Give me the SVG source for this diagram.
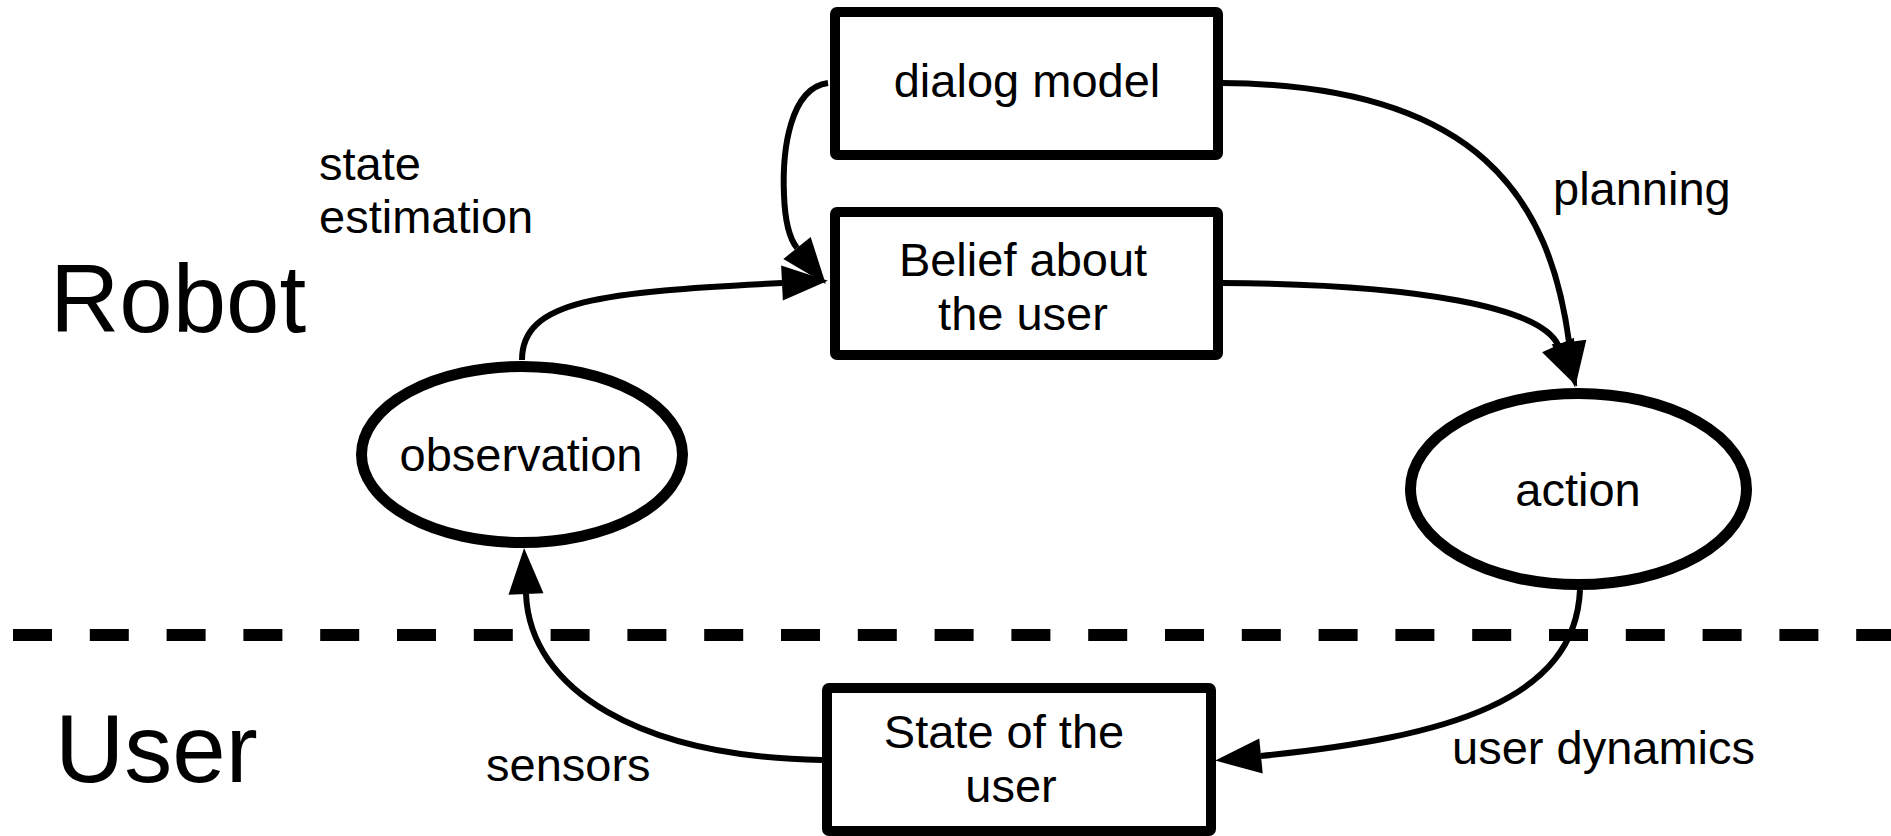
<svg xmlns="http://www.w3.org/2000/svg" width="1891" height="836" viewBox="0 0 1891 836">
  <style>
    text { font-family: "Liberation Sans", Arial, Helvetica, sans-serif; fill: #000; }
    .lbl { font-size: 47px; }
    .mid { text-anchor: middle; }
    .big { font-size: 96px; }
    .box { fill: #fff; stroke: #000; stroke-width: 10; stroke-linejoin: round; }
    .oval { fill: #fff; stroke: #000; stroke-width: 11; }
    .edge { fill: none; stroke: #000; stroke-width: 6; marker-end: url(#arrow); }
    .divider { stroke: #000; stroke-width: 12; stroke-dasharray: 39 37.8; }
  </style>
  <defs>
    <marker id="arrow" markerUnits="userSpaceOnUse" markerWidth="46" markerHeight="35"
            refX="0" refY="17.5" orient="auto" overflow="visible">
      <path d="M0,0 L46,17.5 L0,35 Z" fill="#000"/>
    </marker>
  </defs>
  <rect width="1891" height="836" fill="#fff"/>

  <!-- boundary between robot side and user side -->
  <line class="divider" x1="13" y1="635" x2="1891" y2="635"/>

  <!-- side titles -->
  <text class="big" x="50" y="332">Robot</text>
  <text class="big" x="55" y="782">User</text>

  <!-- nodes -->
  <g id="dialog-model">
    <rect class="box" x="835" y="12" width="383" height="143" rx="2"/>
    <text class="lbl mid" x="1027" y="97">dialog model</text>
  </g>
  <g id="belief">
    <rect class="box" x="835" y="212" width="383" height="143" rx="2"/>
    <text class="lbl mid" x="1023" y="276">Belief about</text>
    <text class="lbl mid" x="1023" y="330">the user</text>
  </g>
  <g id="observation">
    <ellipse class="oval" cx="522" cy="454.5" rx="160.5" ry="88"/>
    <text class="lbl mid" x="521" y="471">observation</text>
  </g>
  <g id="action">
    <ellipse class="oval" cx="1578.5" cy="489" rx="168" ry="95.5"/>
    <text class="lbl mid" x="1578" y="506">action</text>
  </g>
  <g id="user-state">
    <rect class="box" x="827" y="688" width="384" height="143" rx="2"/>
    <text class="lbl mid" x="1004" y="748">State of the</text>
    <text class="lbl mid" x="1011" y="802">user</text>
  </g>

  <!-- connectors -->
  <g id="connectors">
    <path class="edge" d="M828,83 C790,88 782,150 784,195 C785,222 789,238 797,248"/>
    <path class="edge" d="M522,360 C522,300 600,292 782,283"/>
    <path class="edge" d="M1222,283 C1420,284 1541,308 1558,345"/>
    <path class="edge" d="M1222,83 C1480,85 1550,200 1569,342"/>
    <path class="edge" d="M1580,590 C1575,700 1450,737 1261,756"/>
    <path class="edge" d="M822,760 C640,757 530,690 526,594"/>
  </g>

  <!-- connector labels -->
  <g id="edge-labels">
    <text class="lbl" x="319" y="180">state</text>
    <text class="lbl" x="319" y="233">estimation</text>
    <text class="lbl" x="1553" y="205">planning</text>
    <text class="lbl" x="1452" y="764">user dynamics</text>
    <text class="lbl" x="486" y="781">sensors</text>
  </g>
</svg>
